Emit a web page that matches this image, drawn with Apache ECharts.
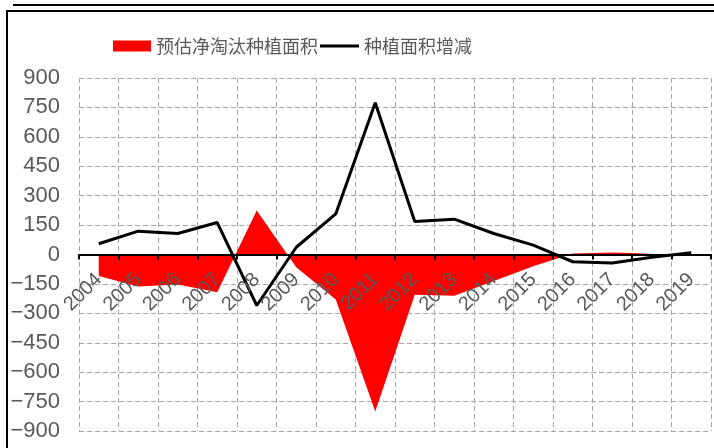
<!DOCTYPE html>
<html>
<head>
<meta charset="utf-8">
<script src="https://cdn.jsdelivr.net/npm/echarts@6/dist/echarts.min.js"></script>
<style>
  html, body { margin: 0; padding: 0; background: #fff; }
  #chart { width: 714px; height: 448px; }
</style>
</head>
<body>
<div id="chart"></div>
<script>
// 年份
const years = ['2004', '2005', '2006', '2007', '2008', '2009', '2010', '2011',
  '2012', '2013', '2014', '2015', '2016', '2017', '2018', '2019']
// 预估净淘汰种植面积
const netRemoved = [-110, -163, -153, -192, 225, -65, -230, -800,
  -205, -210, -135, -60, 5, 10, 5, null]
// 种植面积增减
const areaChange = [55, 119, 107, 163, -260, 37, 207, 774,
  168, 180, 107, 48, -37, -43, -14, 9]

const gray = '#595959'
const gridColor = '#a6a6a6'

const chart = echarts.init(document.getElementById('chart'))

const gridRect = { left: 79, right: 3, top: 78, bottom: 17, containLabel: false, outerBoundsMode: 'none' }
// 零线离底边的距离（-900~900 的正中）
const zeroOffset = -(448 - 78 - 17) / 2

const option = {
  animation: false,
  backgroundColor: '#fff',
  grid: [gridRect, gridRect],
  legend: [
    {
      data: ['预估净淘汰种植面积'],
      left: 108, top: 32,
      icon: 'rect', itemWidth: 38, itemHeight: 11,
      textStyle: { fontFamily: 'Noto Sans CJK SC', fontSize: 18, color: gray }
    },
    {
      data: [{ name: '种植面积增减', icon: 'rect' }],
      left: 315, top: 32,
      icon: 'rect', itemWidth: 39, itemHeight: 3,
      textStyle: { fontFamily: 'Noto Sans CJK SC', fontSize: 18, color: gray }
    }
  ],
  xAxis: [
    {
      // 零轴、刻度和标签（用 offset 移到 0 的位置）
      type: 'category',
      gridIndex: 0,
      data: years,
      boundaryGap: true,
      z: 10,
      offset: zeroOffset,
      axisLine: { onZero: false, lineStyle: { color: '#000', width: 2 } },
      axisTick: { show: true, interval: 0, length: 5, lineStyle: { color: '#000', width: 2 } },
      axisLabel: {
        interval: 0, rotate: 45, margin: 22,
        fontFamily: 'Liberation Sans', fontSize: 20, color: gray
      },
      splitLine: { show: false }
    },
    {
      // 竖向网格线
      type: 'category',
      gridIndex: 1,
      data: years,
      boundaryGap: true,
      axisLine: { show: false },
      axisTick: { show: false },
      axisLabel: { show: false },
      splitLine: {
        show: true, interval: 0,
        lineStyle: { color: gridColor, type: [5, 3], width: 1 }
      }
    }
  ],
  yAxis: [
    {
      type: 'value',
      gridIndex: 0,
      min: -900, max: 900, interval: 150,
      axisLine: { show: false },
      axisTick: { show: false },
      axisLabel: {
        margin: 19,
        fontFamily: 'Liberation Sans', fontSize: 22, color: gray,
        formatter: v => String(v).replace('-', '\u2212')
      },
      splitLine: { lineStyle: { color: gridColor, type: [5, 3], width: 1 } }
    },
    {
      type: 'value',
      gridIndex: 1,
      min: -900, max: 900, interval: 150,
      show: false
    }
  ],
  series: [
    {
      name: '预估净淘汰种植面积',
      type: 'line',
      data: netRemoved,
      symbol: 'none',
      lineStyle: { width: 0 },
      itemStyle: { color: '#ff0000' },
      areaStyle: { color: '#ff0000', opacity: 1, origin: 0 }
    },
    {
      name: '种植面积增减',
      type: 'line',
      data: areaChange,
      symbol: 'none',
      lineStyle: { color: '#000', width: 3 },
      itemStyle: { color: '#000' }
    }
  ],
  graphic: [
    {
      type: 'line',
      shape: { x1: 13, y1: 5, x2: 714, y2: 5 },
      style: { stroke: '#000', lineWidth: 2 }
    },
    {
      type: 'polyline',
      shape: { points: [[7, 448], [7, 11], [714, 11]] },
      style: { stroke: '#000', lineWidth: 2, fill: null }
    }
  ]
}

chart.setOption(option)
</script>
</body>
</html>
